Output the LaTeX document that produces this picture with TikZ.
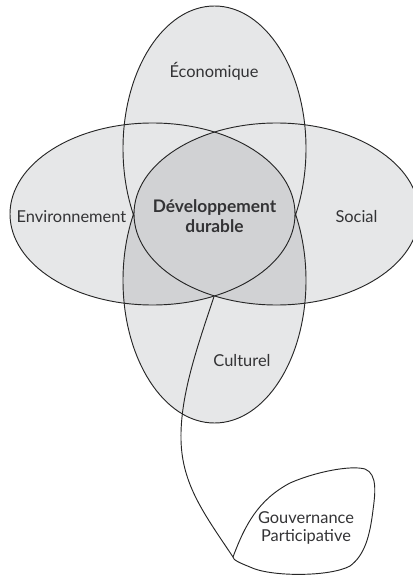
\documentclass[tikz,border=0pt]{standalone}
\usepackage{fontspec}
\setmainfont{Lato}
\definecolor{petal}{HTML}{E6E7E8}
\definecolor{overlap}{HTML}{D1D2D4}
\definecolor{ink}{HTML}{333335}
\tikzset{
  label/.style={text=ink,font=\fontsize{12.3}{14}\selectfont,align=center,inner sep=0pt},
  core/.style={label,font=\fontsize{13}{15.5}\selectfont\bfseries},
  outline/.style={draw=black!85,line width=0.7pt}
}
\begin{document}
\begin{tikzpicture}[x=0.75pt,y=-0.75pt]
  \useasboundingbox (0,0) rectangle (413,577);
  \clip (0,0) rectangle (413,577);
  \coordinate (env) at (152.5,214);
  \coordinate (soc) at (276.5,214);
  \coordinate (eco) at (214.5,148.5);
  \coordinate (cul) at (214.5,280.5);
  % petals
  \fill[petal] (env) ellipse [x radius=142.5,y radius=91];
  \fill[petal] (soc) ellipse [x radius=142.5,y radius=91];
  \fill[petal] (eco) ellipse [x radius=91.5,y radius=142.5];
  \fill[petal] (cul) ellipse [x radius=91.5,y radius=142.5];
  % darker overlaps below
  \begin{scope}
    \clip (env) ellipse [x radius=142.5,y radius=91];
    \fill[overlap] (cul) ellipse [x radius=91.5,y radius=142.5];
  \end{scope}
  \begin{scope}
    \clip (soc) ellipse [x radius=142.5,y radius=91];
    \fill[overlap] (cul) ellipse [x radius=91.5,y radius=142.5];
  \end{scope}
  % vertical petals
  \draw[outline] (eco) ellipse [x radius=91.5,y radius=142.5];
  \draw[outline] (cul) ellipse [x radius=91.5,y radius=142.5];
  % core lens covers them
  \begin{scope}
    \clip (env) ellipse [x radius=142.5,y radius=91];
    \fill[overlap] (soc) ellipse [x radius=142.5,y radius=91];
  \end{scope}
  \draw[outline] (env) ellipse [x radius=142.5,y radius=91];
  \draw[outline] (soc) ellipse [x radius=142.5,y radius=91];
  % labels
  \node[label] (economique) at (214,71) {Économique};
  \node[label] (environnement) at (71.5,217) {Environnement};
  \node[label] (social) at (356.5,217) {Social};
  \node[core] (durable) at (214.5,216) {Développement\\durable};
  \node[label] (culturel) at (242,361) {Culturel};
  \node[label] (gouvernance) at (306,528) {Gouvernance\\Participative};
  % stem and leaf
  \coordinate (lensbot) at (214,296.5);
  \coordinate (leaf) at (233,557);
  \draw[outline] (lensbot) .. controls (198,345) and (180,395) .. (181,440)
    .. controls (182,485) and (205,515) .. (leaf);
  \draw[outline] (leaf) .. controls (245,525) and (258,500) .. (290,483)
    .. controls (315,472) and (350,465) .. (365,469)
    .. controls (378,474) and (375,495) .. (373,510)
    .. controls (370,535) and (365,555) .. (350,566)
    .. controls (330,577) and (270,577) .. (250,567)
    .. controls (240,563) and (233,560) .. (leaf);
\end{tikzpicture}
\end{document}
